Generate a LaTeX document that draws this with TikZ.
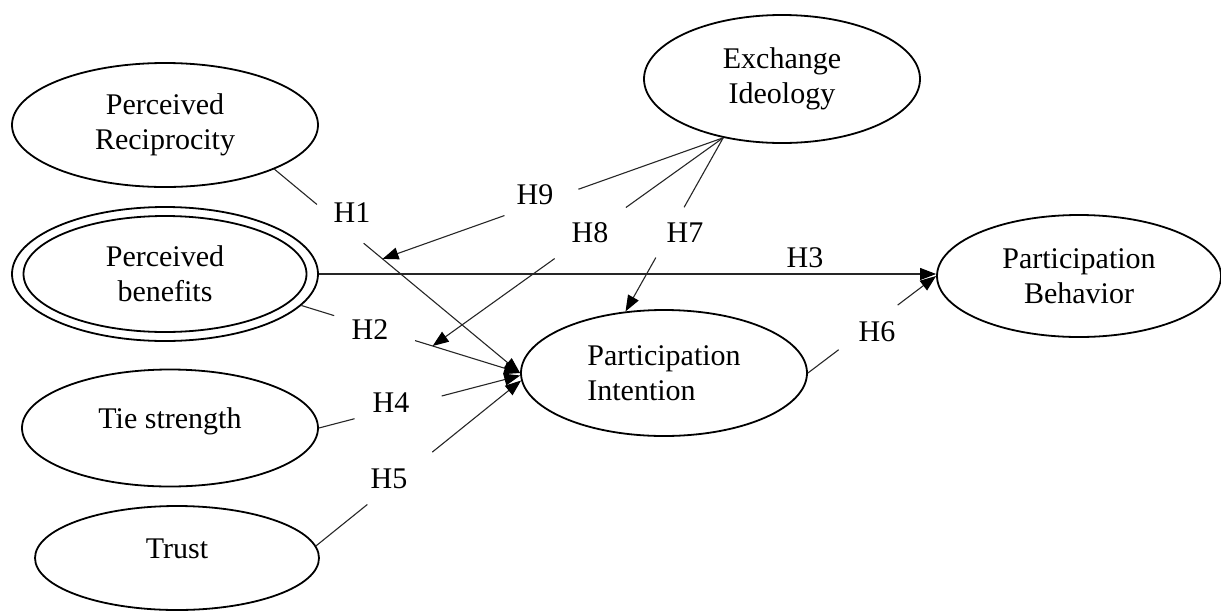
\documentclass[tikz,border=0pt]{standalone}
\usepackage{fontspec}
\setmainfont{Liberation Serif}
\usetikzlibrary{shapes.geometric,arrows.meta,calc}
\begin{document}
\begin{tikzpicture}[x=1pt,y=-1pt,
  font=\fontsize{30}{35}\selectfont,
  latent/.style={ellipse,draw,line width=1.8pt,inner sep=0pt,align=center},
  lowtext/.style={text height=20pt,text depth=20pt},
  conn/.style={line width=1.1pt,draw=black!85},
  arr/.style={-{Triangle[length=16pt,width=12pt,color=black]}},
  hyp/.style={inner sep=0pt}]
\useasboundingbox (0,0) rectangle (1221,611);

% latent constructs
\node[latent,minimum width=306pt,minimum height=124pt] (PR) at (165,125) {Perceived\\Reciprocity};
\node[latent,minimum width=306pt,minimum height=134pt] (PB) at (165,274) {Perceived\\benefits};
\node[latent,minimum width=283pt,minimum height=116pt] (PBi) at (165,274) {};
\node[latent,lowtext,minimum width=296pt,minimum height=117pt] (TS) at (170,428) {Tie strength};
\node[latent,lowtext,minimum width=284pt,minimum height=104pt] (TR) at (177,558) {Trust};
\node[latent,minimum width=276pt,minimum height=128pt] (EI) at (782,79) {Exchange\\Ideology};
\node[latent,align=left,minimum width=286pt,minimum height=126pt] (PI) at (664,373) {Participation\\Intention};
\node[latent,minimum width=284pt,minimum height=122pt] (PBeh) at (1079,276) {Participation\\Behavior};

% end points
\coordinate (h1s) at (PR.-22);
\coordinate (h1t) at (PI.west);
\coordinate (h2s) at (PB.-13);
\coordinate (h2t) at (PI.west);
\coordinate (h4s) at (TS.east);
\coordinate (h4t) at (PI.181);
\coordinate (h5s) at (TR.5);
\coordinate (h5t) at (PI.183);
\coordinate (h6s) at (PI.east);
\coordinate (h6t) at (PBeh.west);
\coordinate (ei) at (EI.-135.5);
\coordinate (h7t) at (PI.122);
\coordinate (h8t) at ($(h2s)!0.60!(h2t)$);
\coordinate (h9t) at ($(h1s)!0.44!(h1t)$);

% H1
\draw[conn] (h1s) -- ($(h1s)!0.173!(h1t)$);
\draw[conn,arr] ($(h1s)!0.363!(h1t)$) -- (h1t);
% H2
\draw[conn] (h2s) -- ($(h2s)!0.15!(h2t)$);
\draw[conn,arr] ($(h2s)!0.52!(h2t)$) -- (h2t);
% H3
\draw[conn,arr] (PB.east) -- (PB.east -| PBeh.west);
% H4
\draw[conn] (h4s) -- ($(h4s)!0.177!(h4t)$);
\draw[conn,arr] ($(h4s)!0.61!(h4t)$) -- (h4t);
% H5
\draw[conn] (h5s) -- ($(h5s)!0.25!(h5t)$);
\draw[conn,arr] ($(h5s)!0.567!(h5t)$) -- (h5t);
% H6
\draw[conn] (h6s) -- ($(h6s)!0.24!(h6t)$);
\draw[conn,arr] ($(h6s)!0.70!(h6t)$) -- (h6t);
% H7
\draw[conn] (ei) -- ($(ei)!0.40!(h7t)$);
\draw[conn,arr] ($(ei)!0.69!(h7t)$) -- (h7t);
% H8
\draw[conn] (ei) -- ($(ei)!0.335!(h8t)$);
\draw[conn,arr] ($(ei)!0.58!(h8t)$) -- (h8t);
% H9
\draw[conn] (ei) -- ($(ei)!0.425!(h9t)$);
\draw[conn,arr] ($(ei)!0.642!(h9t)$) -- (h9t);

% hypothesis labels
\node[hyp] (H1) at (352,213) {H1};
\node[hyp] (H2) at (370,330) {H2};
\node[hyp] (H3) at (805,258) {H3};
\node[hyp] (H4) at (391,403) {H4};
\node[hyp] (H5) at (389,479) {H5};
\node[hyp] (H6) at (877,332) {H6};
\node[hyp] (H7) at (685,233) {H7};
\node[hyp] (H8) at (590,233) {H8};
\node[hyp] (H9) at (535,195) {H9};
\end{tikzpicture}
\end{document}
